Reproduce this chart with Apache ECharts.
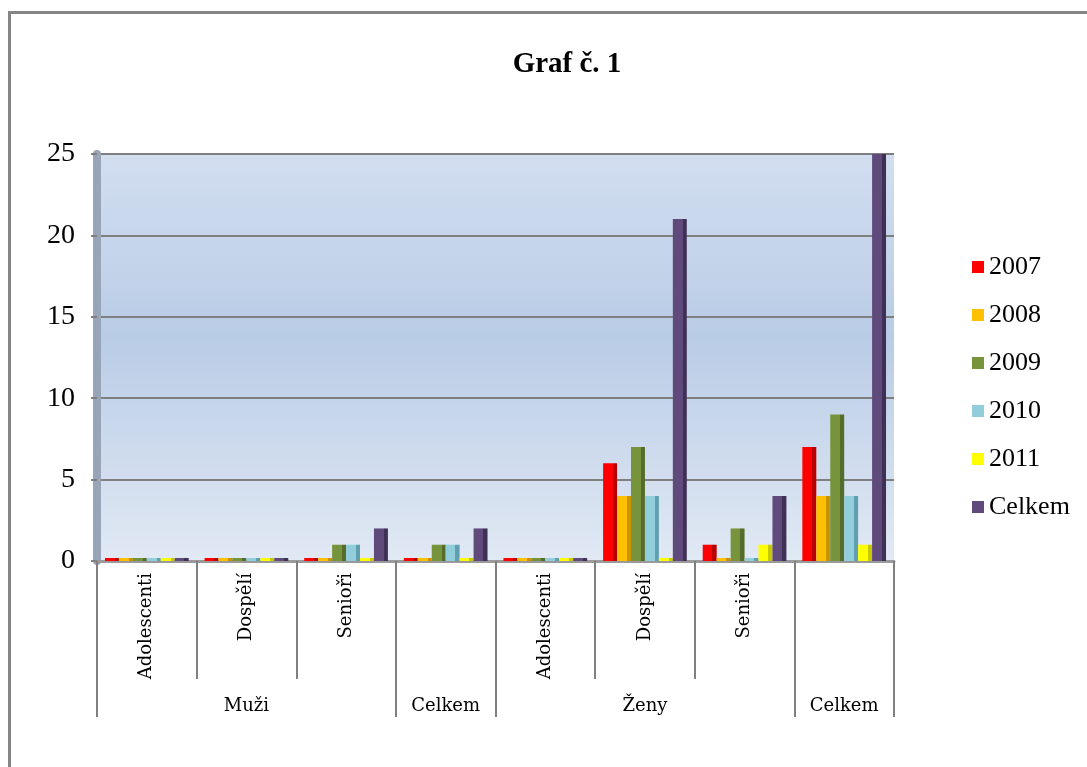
<!DOCTYPE html>
<html>
<head>
<meta charset="utf-8">
<script src="https://cdn.jsdelivr.net/npm/echarts@6/dist/echarts.min.js"></script>
<style>
  html, body { margin: 0; padding: 0; background: #fff; overflow: hidden; }
  #frame { position: absolute; left: 8px; top: 11px; width: 1100px; height: 780px;
           border-left: 3px solid #858585; border-top: 3px solid #858585; }
  #chart { position: absolute; left: 0; top: 0; width: 1087px; height: 767px; }
</style>
</head>
<body>
<div id="frame"></div>
<div id="chart"></div>
<script>
// kategorie (spodní řada) a skupiny (druhá řada)
const categories = ['Adolescenti', 'Dospělí', 'Senioři', 'Celkem', 'Adolescenti', 'Dospělí', 'Senioři', 'Celkem'];
const groupLabels = ['', 'Muži', '', 'Celkem', '', 'Ženy', '', 'Celkem'];
const groupEdges = [0, 3, 4, 7, 8];

const seriesNames = ['2007', '2008', '2009', '2010', '2011', 'Celkem'];
const v2007 = [0, 0, 0, 0, 0, 6, 1, 7];
const v2008 = [0, 0, 0, 0, 0, 4, 0, 4];
const v2009 = [0, 0, 1, 1, 0, 7, 2, 9];
const v2010 = [0, 0, 1, 1, 0, 4, 0, 4];
const v2011 = [0, 0, 0, 0, 0, 0, 1, 1];
const vCelkem = [0, 0, 2, 2, 0, 21, 4, 25];
const yTicks = [0, 5, 10, 15, 20, 25];

const values = [v2007, v2008, v2009, v2010, v2011, vCelkem];
const colors = ['#ff0000', '#ffc000', '#77933c', '#92cddc', '#ffff00', '#604a7b'];
const darks = ['#b80000', '#c99400', '#566c2a', '#5f9fb0', '#c8c800', '#3f3055'];

const chart = echarts.init(document.getElementById('chart'));

// bar s tmavší pravou stranou (náznak 3D)
const barFill = (i) => ({
  type: 'linear', x: 0, y: 0, x2: 1, y2: 0,
  colorStops: [
    {offset: 0, color: colors[i]},
    {offset: 0.7, color: colors[i]},
    {offset: 0.7, color: darks[i]},
    {offset: 1, color: darks[i]}
  ]
});

const option = {
  backgroundColor: 'transparent',
  animation: false,
  title: {
    text: 'Graf č. 1',
    left: 562,
    top: 45,
    textAlign: 'center',
    textStyle: {fontFamily: 'Liberation Serif', fontWeight: 'bold', fontSize: 29, color: '#000'}
  },
  legend: {
    orient: 'vertical',
    left: 967,
    top: 249,
    itemWidth: 12,
    itemHeight: 12,
    itemGap: 22,
    icon: 'rect',
    textStyle: {fontFamily: 'Liberation Serif', fontSize: 26, color: '#000'},
    data: seriesNames.map((n, i) => ({name: n, itemStyle: {color: colors[i]}}))
  },
  grid: {
    left: 97,
    right: 193,
    top: 154,
    bottom: 206,
    show: true,
    borderWidth: 0,
    backgroundColor: {
      type: 'linear', x: 0, y: 0, x2: 0, y2: 1,
      colorStops: [
        {offset: 0, color: '#d2def0'},
        {offset: 0.45, color: '#b9cce6'},
        {offset: 1, color: '#e1e9f4'}
      ]
    }
  },
  xAxis: [
    {
      type: 'category',
      data: categories,
      position: 'bottom',
      axisLine: {show: true, lineStyle: {color: '#9a9a9a', width: 3}},
      axisTick: {show: true, length: 118, lineStyle: {color: '#808080', width: 2}},
      axisLabel: {
        rotate: 90,
        margin: 12,
        interval: 0,
        fontFamily: 'DejaVu Serif',
        fontSize: 18,
        color: '#000',
        // souhrnné sloupce mají popisek jen ve druhé řadě
        formatter: (v, idx) => (groupEdges.includes(idx + 1) && groupEdges.includes(idx) ? '' : v)
      }
    },
    {
      type: 'category',
      data: groupLabels,
      position: 'bottom',
      axisLine: {show: false},
      axisTick: {
        show: true,
        length: 156,
        interval: (index) => groupEdges.includes(index),
        lineStyle: {color: '#808080', width: 2}
      },
      axisLabel: {
        interval: 0,
        margin: 136,
        fontFamily: 'DejaVu Serif',
        fontSize: 18,
        color: '#000'
      }
    }
  ],
  yAxis: {
    type: 'value',
    min: yTicks[0],
    max: yTicks[yTicks.length - 1],
    interval: 5,
    axisLine: {show: true, lineStyle: {color: '#98a4b8', width: 8}},
    axisTick: {show: true, length: 6, lineStyle: {color: '#808080', width: 2}},
    axisLabel: {margin: 22, fontFamily: 'Liberation Serif', fontSize: 28, color: '#000'},
    splitLine: {show: true, lineStyle: {color: '#7f7f7f', width: 2}}
  },
  series: seriesNames.map((name, i) => ({
    name: name,
    type: 'bar',
    xAxisIndex: 0,
    data: values[i],
    barGap: '0%',
    barCategoryGap: '16%',
    barMinHeight: 3,
    itemStyle: {color: barFill(i)}
  }))
};

chart.setOption(option);
</script>
</body>
</html>
